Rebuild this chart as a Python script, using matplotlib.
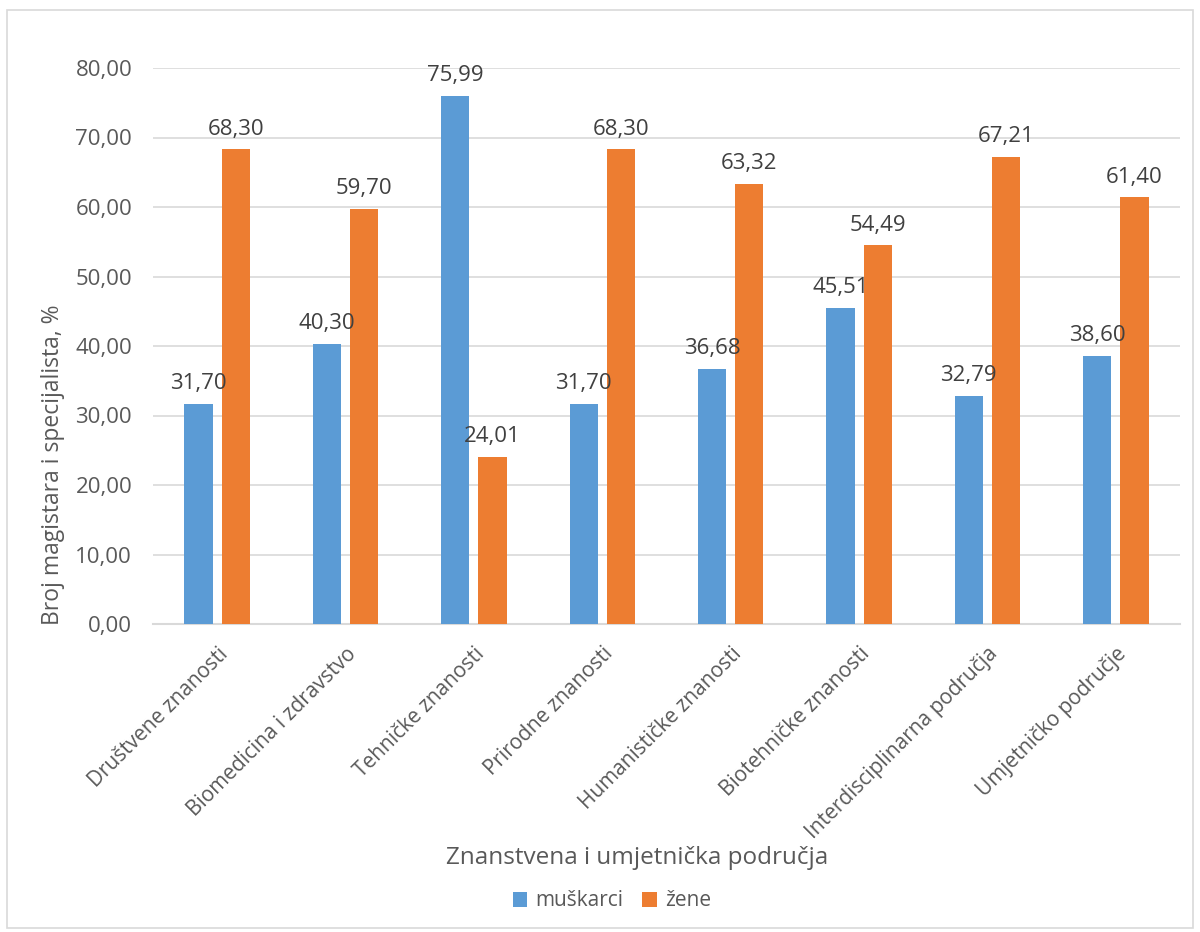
import numpy as np
import matplotlib
matplotlib.use("Agg")
import matplotlib.pyplot as plt
from matplotlib.patches import Rectangle

# Data
categories = ["Društvene znanosti", "Biomedicina i zdravstvo", "Tehničke znanosti",
              "Prirodne znanosti", "Humanističke znanosti", "Biotehničke znanosti",
              "Interdisciplinarna područja", "Umjetničko područje"]
muskarci = [31.70, 40.30, 75.99, 31.70, 36.68, 45.51, 32.79, 38.60]
zene = [68.30, 59.70, 24.01, 68.30, 63.32, 54.49, 67.21, 61.40]
series_names = ["muškarci", "žene"]

plt.rcParams['font.family'] = ['Open Sans', 'DejaVu Sans']
txt = '#595959'
blue = '#5B9BD5'
orange = '#ED7D31'

fig = plt.figure(figsize=(12, 9.32), dpi=100)
ax = fig.add_axes([153/1200, 1 - 624/932, (1180-153)/1200, (624-68)/932])

# figure border
fig.patches.append(Rectangle((7/1200, 1 - 928/932), 1186/1200, 918/932,
                             transform=fig.transFigure, fill=False,
                             edgecolor='#D9D9D9', linewidth=1.2))

x = np.arange(len(categories))
w = 0.22
gap = 0.035
b1 = ax.bar(x - w/2 - gap, muskarci, w, color=blue, label=series_names[0], zorder=3)
b2 = ax.bar(x + w/2 + gap, zene, w, color=orange, label=series_names[1], zorder=3)

for bars, vals in ((b1, muskarci), (b2, zene)):
    for r, v in zip(bars, vals):
        ax.annotate(f"{v:.2f}".replace('.', ','), (r.get_x() + r.get_width()/2, v),
                    xytext=(0, 7), textcoords='offset points', ha='center', va='bottom',
                    fontsize=16, color='#404040')

ax.set_xlim(-0.5, len(categories) - 0.5)
ax.set_ylim(0, 80)
ax.set_yticks(np.arange(0, 81, 10))
ax.set_yticklabels([f"{v:.2f}".replace('.', ',') for v in np.arange(0, 81, 10)])
ax.yaxis.grid(True, color='#D9D9D9', linewidth=1.2, zorder=0)
ax.set_axisbelow(True)
for s in ['top', 'right', 'left']:
    ax.spines[s].set_visible(False)
ax.spines['bottom'].set_color('#D9D9D9')
ax.spines['bottom'].set_linewidth(1.5)
ax.tick_params(axis='y', length=0, labelsize=16, colors=txt, pad=15)
ax.set_xticks(x)
ax.set_xticklabels(categories, rotation=45, ha='right', rotation_mode='anchor')
ax.tick_params(axis='x', length=0, labelsize=15, colors=txt, pad=14)

fig.text(53/1200, 1 - 465/932, "Broj magistara i specijalista, %", rotation=90,
         ha='center', va='center', fontsize=16.5, color=txt)
fig.text(637/1200, 1 - 858/932, "Znanstvena i umjetnička područja", ha='center', va='center',
         fontsize=17.5, color=txt)

fig.legend(handles=[b1, b2], loc='center', bbox_to_anchor=(612/1200, 1 - 901/932), ncol=2,
           frameon=False, fontsize=15, labelcolor=txt, handlelength=0.7, handleheight=0.7,
           columnspacing=0.9, handletextpad=0.4)

fig.savefig("out.png", dpi=100)
